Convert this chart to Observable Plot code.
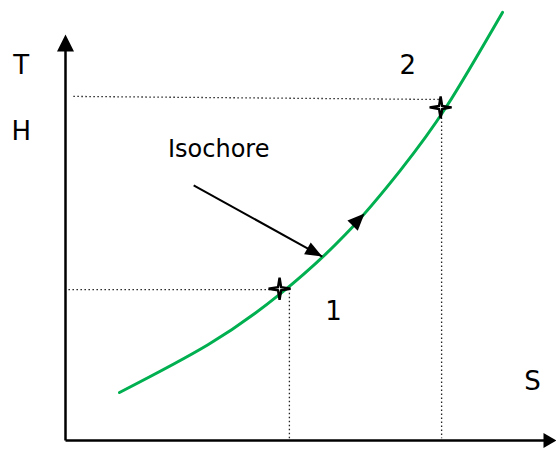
<!DOCTYPE html>
<html><head><meta charset="utf-8">
<script src="https://cdn.jsdelivr.net/npm/d3@7"></script>
<script src="https://cdn.jsdelivr.net/npm/@observablehq/plot@0.6"></script>
<style>html,body{margin:0;padding:0;background:#fff}svg{display:block}</style>
</head><body><div id="chart"></div>
<script>
// Isochore curve (S, T)
const curveS = [1.10, 2.91, 4.36, 5.70, 6.82, 7.76, 8.90];
const curveT = [1.09, 2.18, 3.32, 4.68, 6.14, 7.59, 9.73];

// States 1 and 2 (star markers)
const pointS = [4.36, 7.64];
const pointT = [3.45, 7.57];

// Dotted guide lines
const guideS1 = [0.06, 4.56, 0.16, 7.66];
const guideT1 = [3.43, 3.36, 7.82, 7.43];
const guideS2 = [4.36, 4.56, 7.64, 7.66];
const guideT2 = [3.43, 0.05, 7.75, 0.05];

// Axes extents
const axisEndS = 10;
const axisEndT = 9.23;

// "Isochore" pointer arrow
const isoFromS = 2.61, isoFromT = 5.80, isoToS = 5.23, isoToT = 4.18;
// Direction arrow on curve (tip and a point behind it)
const dirTipS = 6.09, dirTipT = 5.16, dirBackS = 5.87, dirBackT = 4.91;

// Labels
const labelText = ["T", "H", "S", "1", "2"];
const labelS = [-0.90, -0.90, 9.51, 5.46, 6.97];
const labelT = [8.34, 6.82, 1.14, 2.75, 8.34];
const isoLabel = "Isochore", isoLabelS = 3.12, isoLabelT = 6.45;

const W = 556, H = 449, mL = 65, mR = 0, mT = 0, mB = 9;
const kx = (W - mL - mR) / 10, ky = (H - mT - mB) / 10;
const angle = (s0, t0, s1, t1) => Math.atan2((s1 - s0) * kx, (t1 - t0) * ky) * 180 / Math.PI;

const curve = curveS.map((s, i) => ({s, t: curveT[i]}));
const points = pointS.map((s, i) => ({s, t: pointT[i]}));
const guides = guideS1.map((s, i) => ({s1: s, t1: guideT1[i], s2: guideS2[i], t2: guideT2[i]}));
const labels = labelText.map((text, i) => ({text, s: labelS[i], t: labelT[i]}));

const heads = [
  {s: 0, t: axisEndT, angle: angle(0, 0, 0, axisEndT), len: 17, ratio: 1.0},
  {s: axisEndS, t: 0, angle: angle(0, 0, axisEndS, 0), len: 13, ratio: 1.15},
  {s: isoToS, t: isoToT, angle: angle(isoFromS, isoFromT, isoToS, isoToT), len: 17, ratio: 0.8},
  {s: dirTipS, t: dirTipT, angle: angle(dirBackS, dirBackT, dirTipS, dirTipT), len: 17, ratio: 0.85}
];

const headSymbol = (ratio) => ({
  draw(ctx, size) {
    const L = Math.sqrt(size / Math.PI), w = L * ratio / 2;
    ctx.moveTo(0, 0); ctx.lineTo(-w, L); ctx.lineTo(w, L); ctx.closePath();
  }
});
const star4 = {
  draw(ctx, size) {
    const R = Math.sqrt(size / Math.PI), ri = R * 0.2;
    for (let k = 0; k < 8; k++) {
      const a = k * Math.PI / 4 - Math.PI / 2, rad = k % 2 ? ri : R;
      const x = rad * Math.cos(a), y = rad * Math.sin(a);
      k ? ctx.lineTo(x, y) : ctx.moveTo(x, y);
    }
    ctx.closePath();
  }
};

const plot = Plot.plot({
  width: W, height: H,
  marginLeft: mL, marginRight: mR, marginTop: mT, marginBottom: mB,
  x: {domain: [0, 10], axis: null},
  y: {domain: [0, 10], axis: null},
  style: {fontFamily: "'DejaVu Sans', sans-serif", background: "#fff", overflow: "visible"},
  marks: [
    Plot.link(guides, {x1: "s1", y1: "t1", x2: "s2", y2: "t2", stroke: "#222", strokeWidth: 1.3, strokeDasharray: "1.5,2.5"}),
    Plot.link([{s1: 0, t1: 0, s2: 0, t2: axisEndT - 0.2}, {s1: 0, t1: 0, s2: axisEndS - 0.15, t2: 0}],
      {x1: "s1", y1: "t1", x2: "s2", y2: "t2", stroke: "black", strokeWidth: 2.5}),
    Plot.line(curve, {x: "s", y: "t", curve: "natural", stroke: "#00B050", strokeWidth: 3}),
    Plot.link([{s1: isoFromS, t1: isoFromT, s2: isoToS, t2: isoToT}], {x1: "s1", y1: "t1", x2: "s2", y2: "t2", stroke: "black", strokeWidth: 2}),
    ...heads.map(h => Plot.dot([h], {x: "s", y: "t", r: h.len, rotate: "angle", symbol: headSymbol(h.ratio), fill: "black", stroke: "none"})),
    Plot.dot(points, {x: "s", y: "t", r: 11, symbol: star4, fill: "white", stroke: "black", strokeWidth: 2.4}),
    Plot.text(labels, {x: "s", y: "t", text: "text", fontSize: 26, lineAnchor: "bottom", fill: "black"}),
    Plot.text([{s: isoLabelS, t: isoLabelT}], {x: "s", y: "t", text: () => isoLabel, fontSize: 24, lineAnchor: "bottom", fill: "black"})
  ]
});
document.getElementById("chart").append(plot);
</script>
</body></html>
